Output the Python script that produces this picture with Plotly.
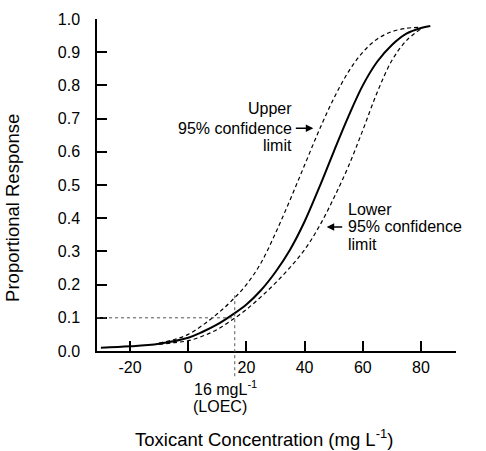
import plotly.graph_objects as go

# ---- data ----
solid_x = [-30, -20, -10, 0, 5, 10, 15, 20, 25, 30, 35, 40, 45, 50, 55, 60, 65, 70, 75, 80, 83.2]
solid_y = [0.010, 0.014, 0.022, 0.040, 0.058, 0.080, 0.108, 0.140, 0.183, 0.238, 0.305, 0.390,
           0.492, 0.600, 0.705, 0.800, 0.872, 0.922, 0.956, 0.973, 0.979]

upper_x = [-10, -5, 0, 5, 10, 15, 20, 25, 30, 35, 40, 45, 50, 55, 60, 65, 70, 75, 79]
upper_y = [0.024, 0.034, 0.050, 0.078, 0.112, 0.152, 0.200, 0.265, 0.355, 0.455, 0.560, 0.665,
           0.760, 0.840, 0.900, 0.940, 0.962, 0.972, 0.975]

lower_x = [-10, -5, 0, 5, 10, 15, 20, 25, 30, 35, 40, 45, 50, 55, 60, 65, 70, 75, 80]
lower_y = [0.020, 0.025, 0.031, 0.045, 0.065, 0.093, 0.125, 0.163, 0.205, 0.252, 0.305, 0.375,
           0.460, 0.555, 0.665, 0.780, 0.875, 0.935, 0.970]

x_ticks = [-20, 0, 20, 40, 60, 80]
x_ticktext = ["-20", "0", "20", "40", "60", "80"]
y_ticks = [0.0, 0.1, 0.2, 0.3, 0.4, 0.5, 0.6, 0.7, 0.8, 0.9, 1.0]
y_ticktext = ["0.0", "0.1", "0.2", "0.3", "0.4", "0.5", "0.6", "0.7", "0.8", "0.9", "1.0"]

loec_x = 16
loec_y = 0.1

FONT = "Liberation Sans, Arial, Helvetica, sans-serif"

fig = go.Figure()
fig.add_trace(go.Scatter(x=upper_x, y=upper_y, mode="lines",
                         line=dict(color="black", width=1.2, dash="4px,3px", shape="spline", smoothing=1.0),
                         hoverinfo="skip", showlegend=False))
fig.add_trace(go.Scatter(x=lower_x, y=lower_y, mode="lines",
                         line=dict(color="black", width=1.2, dash="4px,3px", shape="spline", smoothing=1.0),
                         hoverinfo="skip", showlegend=False))
fig.add_trace(go.Scatter(x=solid_x, y=solid_y, mode="lines",
                         line=dict(color="black", width=2, shape="spline", smoothing=1.0),
                         hoverinfo="skip", showlegend=False))

x_min, x_max = -31.34, 92.03

# dotted guide lines
fig.add_shape(type="line", xref="x", yref="y", x0=x_min, x1=loec_x, y0=loec_y, y1=loec_y,
              line=dict(color="#555555", width=1, dash="dot"))
fig.add_shape(type="line", xref="x", yref="paper", x0=loec_x, x1=loec_x, y0=-0.076, y1=0.178,
              line=dict(color="#555555", width=1, dash="dot"))

ann = []
def txt(t, x, y, xanchor, size=16):
    ann.append(dict(text=t, xref="paper", yref="paper", x=x, y=y, xanchor=xanchor, yanchor="middle",
                    showarrow=False, font=dict(family=FONT, size=size, color="black")))

# upper label
txt("Upper", 0.549, 0.729, "right")
txt("95% confidence", 0.549, 0.671, "right")
txt("limit", 0.549, 0.618, "right")
# lower label
txt("Lower", 0.694, 0.426, "left")
txt("95% confidence", 0.694, 0.374, "left")
txt("limit", 0.694, 0.321, "left")
# LOEC
txt("16 mgL<sup>-1</sup>", 0.266, -0.112, "left")
txt("(LOEC)", 0.263, -0.166, "left")
# axis titles
txt("Toxicant Concentration (mg L<sup>-1</sup>)", 0.465, -0.262, "center", size=18.5)
ann.append(dict(text="Proportional Response", xref="paper", yref="paper", x=-0.234, y=0.431,
                xanchor="center", yanchor="middle", textangle=-90, showarrow=False,
                font=dict(family=FONT, size=18.5, color="black")))
# arrows
ann.append(dict(text="", x=43.0, y=0.671, xref="x", yref="y", ax=-19, ay=0,
                showarrow=True, arrowhead=2, arrowsize=1, arrowwidth=1.5, arrowcolor="black"))
ann.append(dict(text="", x=47.6, y=0.3735, xref="x", yref="y", ax=17, ay=0,
                showarrow=True, arrowhead=2, arrowsize=1, arrowwidth=1.5, arrowcolor="black"))

fig.update_layout(
    width=486, height=451,
    margin=dict(l=97, r=30, t=11, b=100),
    paper_bgcolor="white", plot_bgcolor="white",
    font=dict(family=FONT, size=16, color="black"),
    annotations=ann,
    xaxis=dict(range=[x_min, x_max], tickvals=x_ticks, ticktext=x_ticktext, ticks="inside",
               ticklen=10, tickwidth=1.5,
               tickcolor="black", showline=True, linecolor="black", linewidth=1.5,
               showgrid=False, zeroline=False, tickfont=dict(family=FONT, size=16),
               ticklabelstandoff=1),
    yaxis=dict(range=[0, 1], tickvals=y_ticks, ticktext=y_ticktext, ticks="inside", ticklen=10,
               tickwidth=1.5, tickcolor="black", showline=True, linecolor="black", linewidth=1.5,
               showgrid=False, zeroline=False, tickfont=dict(family=FONT, size=16),
               ticklabelstandoff=12),
)

fig.write_html("out.html")
